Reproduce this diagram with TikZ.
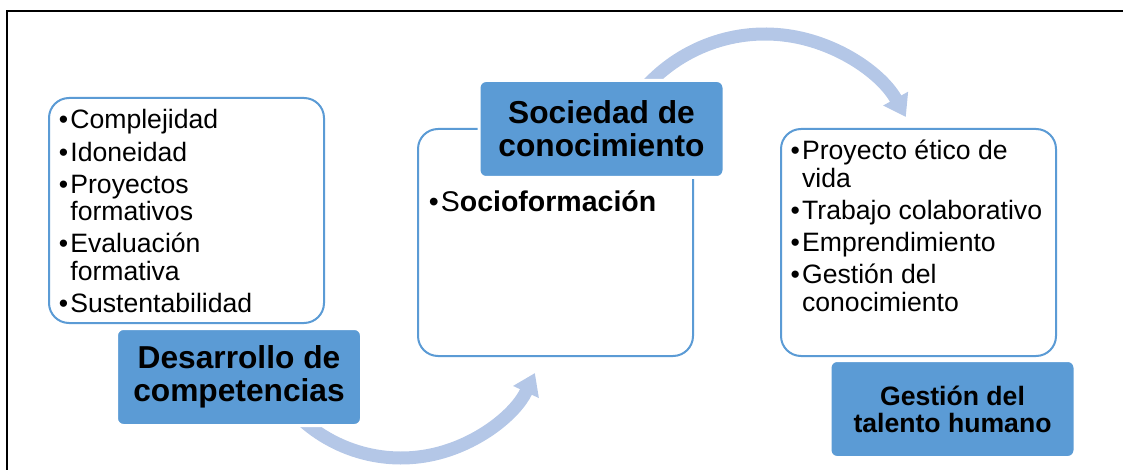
\documentclass[tikz,border=0pt]{standalone}
\usepackage{fontspec}
\setmainfont{Liberation Sans}
\usetikzlibrary{arrows.meta}
\definecolor{boxblue}{RGB}{91,155,213}
\definecolor{flowblue}{RGB}{180,199,231}

\begin{document}
\begin{tikzpicture} [x=1pt,y=-1pt,
		list box/.style={draw=boxblue,line width=2pt,fill=white,rounded corners=20pt,inner sep=0pt,minimum width=275pt,minimum height=227pt},
		title box/.style={fill=boxblue,draw=white,line width=3pt,rounded corners=7pt,inner sep=0pt,minimum width=245pt,minimum height=97pt,align=center},
		big title/.style={font=\fontsize{31.7pt}{33pt}\selectfont\bfseries},
		small title/.style={font=\fontsize{26.6pt}{27pt}\selectfont\bfseries},
		list text/.style={anchor=base west,inner sep=0pt,font=\fontsize{26.6pt}{27.5pt}\selectfont},
		flow/.style={draw=flowblue,line width=13pt,-{Triangle[width=27pt,length=21pt]}}]

		\useasboundingbox (0,0) rectangle (1123,470);
		\draw [line width=2pt] (7,470) -- (7,11) -- (1123,11);

		\coordinate (bend1) at (401,310);
		\coordinate (bend2) at (765,195);
		\draw [flow] ([shift={(-137:148pt)}]bend1) arc [start angle=-137,end angle=-25.2,radius=148pt];
		\draw [flow] ([shift={(140:161pt)}]bend2) arc [start angle=140,end angle=29,radius=161pt];

		\node [list box,minimum height=225pt] (compBox) at (186.5,210.5) {};
		\node [list box] (socBox) at (555.5,242.5) {};
		\node [list box] (talBox) at (918.5,242.5) {};

		\node [title box,big title] (compTitle) at (239,377) {Desarrollo de\\competencias};
		\node [title box,big title] (socTitle) at (601.5,129) {Sociedad de\\conocimiento};
		\node [title box,small title] (talTitle) at (952.5,409) {Gestión del\\talento humano};

		\node [list text] (compList) at (58.7,129) {\begin{tabular}[t]{@{}p{11.5pt}@{}l@{}}
			\textbullet & Complejidad\\[4.5pt]
			\textbullet & Idoneidad\\[4.5pt]
			\textbullet & Proyectos\\
			& formativos\\[4.5pt]
			\textbullet & Evaluación\\
			& formativa\\[4.5pt]
			\textbullet & Sustentabilidad
		\end{tabular}};
		\node [list text,font=\fontsize{28.5pt}{30pt}\selectfont] (socList) at (428.7,211.5) {\textbullet\hspace{2pt}S\textbf{ocioformación}};
		\node [list text] (talList) at (790.4,160) {\begin{tabular}[t]{@{}p{11.5pt}@{}l@{}}
			\textbullet & Proyecto ético de\\
			& vida\\[4.5pt]
			\textbullet & Trabajo colaborativo\\[4.5pt]
			\textbullet & Emprendimiento\\[4.5pt]
			\textbullet & Gestión del\\
			& conocimiento
		\end{tabular}};
\end{tikzpicture}
\end{document}
